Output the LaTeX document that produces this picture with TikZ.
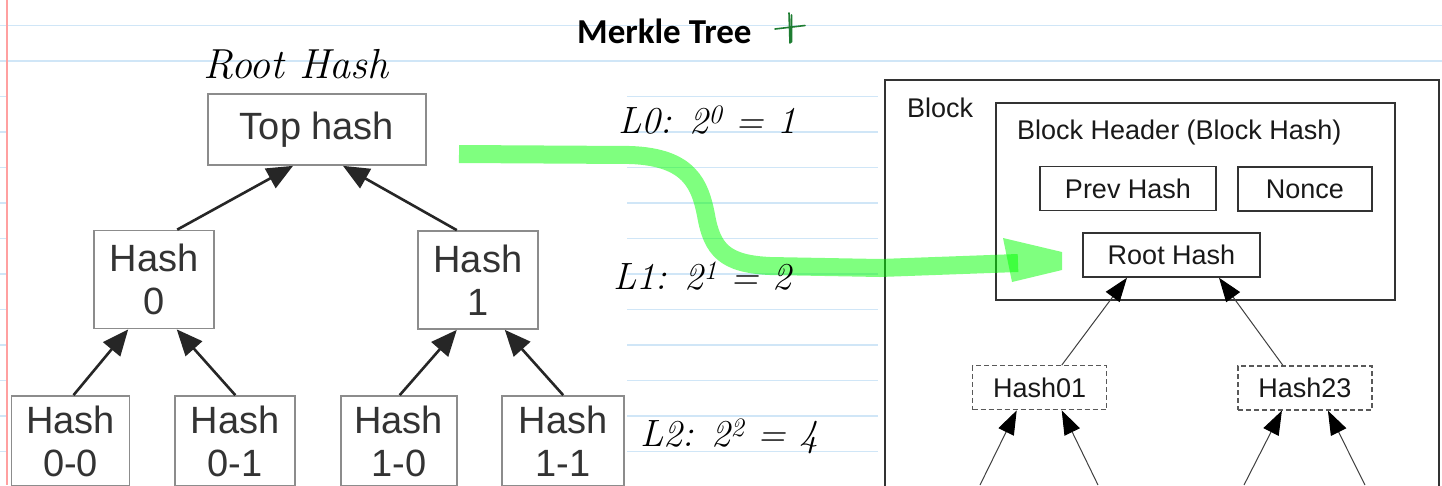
\documentclass[tikz,border=0pt]{standalone}
\usepackage{fontspec}
\usepackage{tikz}
\usetikzlibrary{arrows.meta}

\newfontfamily\boxfont{Liberation Sans}
\newfontfamily\titlefont{Carlito}

\definecolor{ruled}{RGB}{208,230,247}
\definecolor{margin}{RGB}{255,160,160}
\definecolor{marker}{RGB}{0,255,0}
\definecolor{inkgreen}{RGB}{30,125,50}

\begin{document}
\begin{tikzpicture}[x=1pt, y=-1pt,
    ruled line/.style={ruled, line width=1.4pt},
    treebox/.style={draw=black!45, line width=1.7pt, fill=white, minimum width=120pt,
        minimum height=98pt, inner sep=0pt, align=center, text=black!80,
        font=\boxfont\fontsize{38}{43}\selectfont},
    treearrow/.style={draw=black!85, line width=2.6pt, -{Triangle[length=26pt, width=22pt]}},
    blockbox/.style={draw=black!80, line width=1.8pt, inner sep=0pt},
    blocktext/.style={inner sep=0pt, text=black!90, font=\boxfont\fontsize{27}{30}\selectfont},
    fieldbox/.style={blockbox, line width=1.5pt, minimum height=44pt, text=black!90,
        font=\boxfont\fontsize{27}{30}\selectfont},
    dashbox/.style={draw=black!65, line width=1.2pt, dash pattern=on 5pt off 3pt,
        minimum width=134pt, minimum height=44pt, inner sep=0pt, text=black!90,
        font=\boxfont\fontsize{27}{30}\selectfont},
    blockarrow/.style={draw=black!75, line width=1pt, -{Triangle[length=24pt, width=17pt, black]}},
    hand/.style={inner sep=0pt, anchor=base west, font=\fontsize{38}{40}\selectfont\itshape}
]
    \useasboundingbox (0,0) rectangle (1442,485);
    \clip (0,0) rectangle (1442,485);

    % Notebook page: ruled lines and margin
    \fill[white] (0,0) rectangle (1442,485);
    \foreach \k in {0,1}
        \draw[ruled line] (0,25.3+35.5*\k) -- (1442,25.3+35.5*\k);
    \foreach \k in {2,...,12} {
        \draw[ruled line] (0,25.3+35.5*\k) -- (7,25.3+35.5*\k);
        \draw[ruled line] (627,25.3+35.5*\k) -- (878,25.3+35.5*\k);
    }
    \draw[margin, line width=2pt] (7,0) -- (7,485);

    % Title
    \node[inner sep=0pt, anchor=base west, font=\titlefont\bfseries\fontsize{35}{40}\selectfont]
        (title) at (577,43) {Merkle Tree};
    \draw[inkgreen, line width=1.6pt, line cap=round] (775,29) -- (805,25.5);
    \draw[inkgreen, line width=1.6pt, line cap=round] (789,13) -- (790,43) (791.5,15) -- (791.5,42);

    % Hash tree (bottom row runs off the page)
    \node[treebox, minimum width=218pt, minimum height=71pt] (top) at (317,129.5) {Top hash};
    \node[treebox] (h0) at (154.2,279.5) {Hash\\0};
    \node[treebox] (h1) at (477.8,280) {Hash\\1};
    \node[treebox, minimum width=118pt, minimum height=90pt] (h00) at (70.5,441) {Hash\\0-0};
    \node[treebox, minimum height=90pt] (h01) at (235.3,441) {Hash\\0-1};
    \node[treebox, minimum width=116pt, minimum height=90pt] (h10) at (398.7,441) {Hash\\1-0};
    \node[treebox, minimum width=122pt, minimum height=90pt] (h11) at (563.2,441) {Hash\\1-1};

    \draw[treearrow] ([xshift=23pt]h0.north) -- ([xshift=-24pt]top.south);
    \draw[treearrow] ([xshift=-21pt]h1.north) -- ([xshift=26pt]top.south);
    \draw[treearrow] ([xshift=3pt]h00.north) -- ([xshift=-26pt]h0.south);
    \draw[treearrow] (h01.north) -- ([xshift=22.5pt]h0.south);
    \draw[treearrow] ([xshift=1pt]h10.north) -- ([xshift=-21pt]h1.south);
    \draw[treearrow] (h11.north) -- ([xshift=27pt]h1.south);

    % Block with its header
    \node[blockbox, minimum width=553.7pt, minimum height=440pt, anchor=north west]
        (block) at (884,79.3) {};
    \node[blocktext, anchor=base west] (blocklbl) at (907,117) {Block};
    \node[blockbox, minimum width=398.7pt, minimum height=197.6pt, anchor=north west]
        (header) at (995,101.7) {};
    \node[blocktext, anchor=base west] (headerlbl) at (1017,139) {Block Header (Block Hash)};
    \node[fieldbox, minimum width=176pt] (prev) at (1128,188.7) {Prev Hash};
    \node[fieldbox, minimum width=134.3pt] (nonce) at (1304.9,189) {Nonce};
    \node[fieldbox, minimum width=177pt] (root) at (1171.5,255) {Root Hash};

    \node[dashbox] (hash01) at (1039.7,387.8) {Hash01};
    \node[dashbox] (hash23) at (1304.9,388) {Hash23};

    \draw[blockarrow] ([xshift=22pt]hash01.north) -- ([xshift=-44.5pt]root.south);
    \draw[blockarrow] ([xshift=-22pt]hash23.north) -- ([xshift=47.5pt]root.south);

    \coordinate (leaf0) at (980,485);
    \coordinate (leaf1) at (1098,485);
    \coordinate (leaf2) at (1244,485);
    \coordinate (leaf3) at (1365,485);
    \draw[blockarrow] (leaf0) -- ([xshift=-23pt]hash01.south);
    \draw[blockarrow] (leaf1) -- ([xshift=22pt]hash01.south);
    \draw[blockarrow] (leaf2) -- ([xshift=-23pt]hash23.south);
    \draw[blockarrow] (leaf3) -- ([xshift=23pt]hash23.south);

    % Highlighter arrow from the top hash to the root hash
    \coordinate (markstart) at (459,154);
    \coordinate (markend) at (1018,263);
    \draw[marker, opacity=0.5, line width=18pt, line join=round] (markstart) -- (630,155)
        .. controls (690,157) and (700,185) .. (706,215)
        .. controls (712,250) and (725,264) .. (770,266) -- (880,268) -- (markend);
    \fill[marker, opacity=0.5] (1003,238) -- (1062,252) -- (1062,270) -- (1012,282) -- cycle;

    % Handwritten notes
    \node[hand, font=\fontsize{42}{44}\selectfont\itshape] (roothand) at (203,78) {Root Hash};
    \node[hand] (lvl0) at (618,133) {L0: 2\textsuperscript{0} = 1};
    \node[hand] (lvl1) at (613,289) {L1: 2\textsuperscript{1} = 2};
    \node[hand] (lvl2) at (640,446) {L2: 2\textsuperscript{2} = 4};
\end{tikzpicture}
\end{document}
